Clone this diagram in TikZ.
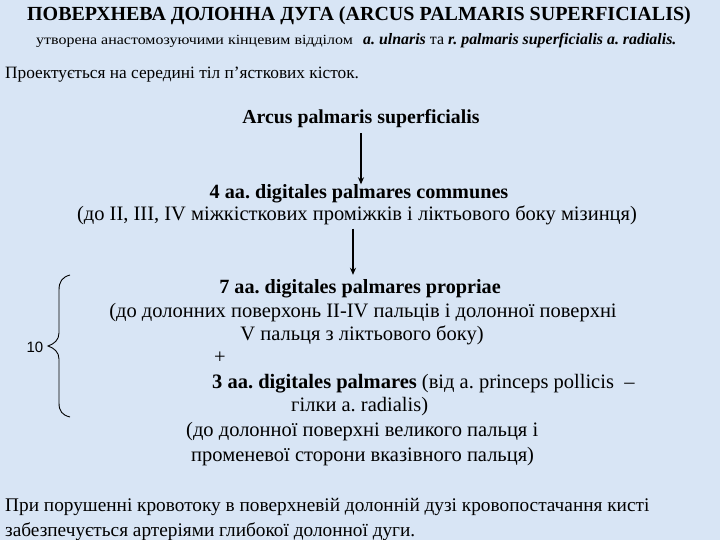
\documentclass[tikz,border=0pt]{standalone}
\usepackage{fontspec}
\setmainfont{Liberation Serif}
\newfontfamily\arialf{Liberation Sans}
\newfontfamily\widef{Liberation Serif}[FakeStretch=1.14]
\usetikzlibrary{arrows.meta}
\definecolor{bgblue}{RGB}{216,229,245}
\frenchspacing
\tikzset{
  txt/.style={inner sep=0pt, anchor=base west, font=\fontsize{20.5}{24}\selectfont},
  ctxt/.style={inner sep=0pt, anchor=base, font=\fontsize{20.5}{24}\selectfont},
  bctxt/.style={ctxt, font=\fontsize{20.2}{24}\selectfont\bfseries},
  arr/.style={line width=1.4pt, -{Stealth[length=7pt,width=6pt]}},
}
\begin{document}
\begin{tikzpicture}[x=1pt,y=-1pt]
\fill[bgblue] (0,0) rectangle (720,540);
\useasboundingbox (0,0) rectangle (720,540);
% title
\node[ctxt, font=\fontsize{20}{24}\selectfont\bfseries] (title) at (359,21) {ПОВЕРХНЕВА ДОЛОННА ДУГА (ARCUS PALMARIS SUPERFICIALIS)};
\node[txt] (sub) at (36,45) {{\widef\fontsize{14}{16}\selectfont утворена анастомозуючими кінцевим відділом}\ \ {\fontsize{15.9}{17}\selectfont\bfseries\itshape a. ulnaris}{\fontsize{15.9}{17}\selectfont{} та }{\fontsize{15.9}{17}\selectfont\bfseries\itshape r. palmaris superficialis a. radialis.}};
\node[txt, font=\fontsize{17.3}{20}\selectfont] (proj) at (5,79) {Проектується на середині тіл п’ясткових кісток.};
% chain
\node[bctxt, font=\fontsize{19.8}{24}\selectfont\bfseries] (arcus) at (361,124) {Arcus palmaris superficialis};
\node[bctxt] (comm) at (359,199) {4 aa. digitales palmares communes};
\node[ctxt] (commd) at (357,221) {(до II, III, IV міжкісткових проміжків і ліктьового боку мізинця)};
\node[bctxt] (prop) at (360,293) {7 aa. digitales palmares propriae};
\node[ctxt] (propd1) at (363,317) {(до долонних поверхонь II-IV пальців і долонної поверхні};
\node[ctxt] (propd2) at (362,340) {V пальця з ліктьового боку)};
\node[txt] (plus) at (214,363) {+};
\node[txt] (pal) at (212,388) {\textbf{3 aa. digitales palmares} (від a. princeps pollicis\ \ –};
\node[txt] (pal2) at (291,411) {гілки a. radialis)};
\node[txt] (pald1) at (186,436) {(до долонної поверхні великого пальця і};
\node[txt] (pald2) at (191,461) {променевої сторони вказівного пальця)};
% brace and count
\node[inner sep=0pt, font=\arialf\fontsize{15}{18}\selectfont] (ten) at (35,347) {10};
\draw[line width=0.9pt] (70,275) .. controls (62,277) and (59,282) .. (59,290) -- (59,333)
  .. controls (59,340) and (54,344) .. (48,346) .. controls (54,348) and (59,352) .. (59,359)
  -- (59,403) .. controls (59,411) and (62,415) .. (70,417);
% arrows
\draw[arr, shorten <=5pt, shorten >=0.5pt] (arcus.south) -- (arcus.south |- comm.north);
\draw[arr, shorten <=3pt, shorten >=4pt] ([xshift=-4pt]commd.south) -- ([xshift=-4pt]commd.south |- prop.north);
% bottom
\node[txt, font=\fontsize{19.3}{23}\selectfont] (bot1) at (5,511) {При порушенні кровотоку в поверхневій долонній дузі кровопостачання кисті};
\node[txt, font=\fontsize{19.3}{23}\selectfont] (bot2) at (5,536) {забезпечується артеріями глибокої долонної дуги.};
\end{tikzpicture}
\end{document}
